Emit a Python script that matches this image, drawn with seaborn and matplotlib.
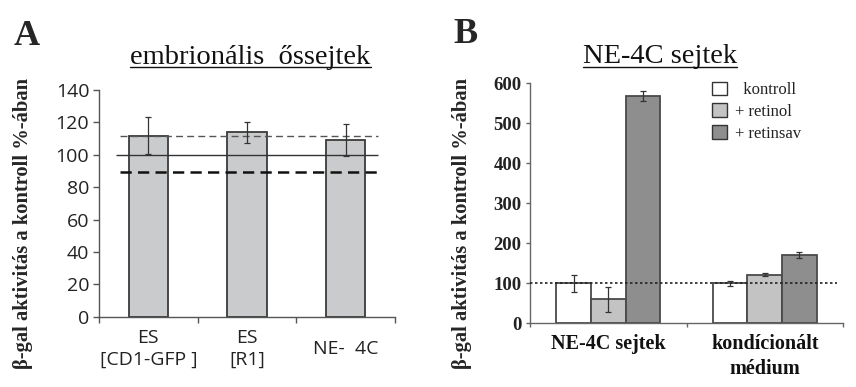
import numpy as np
import pandas as pd
import matplotlib
matplotlib.use("Agg")
import matplotlib.pyplot as plt
import seaborn as sns
from matplotlib.lines import Line2D

# ---------------- data ----------------
a_categories = ["ES\n[CD1-GFP ]", "ES\n[R1]", "NE-  4C"]
a_values = [111.8, 114.0, 108.9]
a_errors = [11.6, 6.5, 9.8]
a_ref_solid = 100
a_ref_upper = 111.6
a_ref_lower = 89.4
a_yticks = [0, 20, 40, 60, 80, 100, 120, 140]

b_groups = ["NE-4C sejtek", "kondícionált\nmédium"]
b_treatments = ["  kontroll", "+ retinol", "+ retinsav"]
b_values = {
    "  kontroll": [100, 100],
    "+ retinol": [60, 122],
    "+ retinsav": [569, 171],
}
b_errors = {
    "  kontroll": [21.5, 6],
    "+ retinol": [31, 4],
    "+ retinsav": [12, 7],
}
b_ref = 100
b_yticks = [0, 100, 200, 300, 400, 500, 600]

ylabel_text = "β-gal aktivitás a kontroll %-ában"

# ---------------- style ----------------
sns.set_style("ticks")
plt.rcParams["font.family"] = ["Liberation Serif", "DejaVu Serif"]
SERIF = ["Liberation Serif", "DejaVu Serif"]
SANS = ["Open Sans", "DejaVu Sans"]

fig = plt.figure(figsize=(8.56, 3.87), dpi=100)
W, H = 856, 387

def ax_rect(x0, x1, ytop, ybot):
    return [x0 / W, 1 - ybot / H, (x1 - x0) / W, (ybot - ytop) / H]

axA = fig.add_axes(ax_rect(99, 395, 90, 316.7))
axB = fig.add_axes(ax_rect(530, 843, 83.3, 323.3))

# ---------------- panel A ----------------
dfA = pd.DataFrame({"cat": a_categories, "val": a_values})
sns.barplot(data=dfA, x="cat", y="val", color="#c9cbcd", saturation=1,
            width=0.4, edgecolor="#3a3a3a", linewidth=1.3, errorbar=None, ax=axA)
xs = np.arange(len(a_categories))
axA.errorbar(xs, a_values, yerr=a_errors, fmt="none", ecolor="#333333",
             elinewidth=0.9, capsize=2.5, capthick=0.9, zorder=5)
axA.hlines(a_ref_solid, -0.33, 2.33, color="#333333", lw=1.0, zorder=4)
axA.hlines(a_ref_upper, -0.29, 2.33, color="#555555", lw=1.0,
           linestyles=(0, (5, 3)), zorder=4)
axA.hlines(a_ref_lower, -0.29, 2.33, color="#111111", lw=1.8,
           linestyles=(0, (4.5, 2.5)), zorder=4)
axA.set_xlim(-0.5, len(a_categories) - 0.5)
axA.set_ylim(0, 140)
axA.set_yticks(a_yticks)
axA.set_yticklabels([str(t) for t in a_yticks], fontfamily=SANS, fontsize=14,
                    color="#222222")
axA.set_xticks(xs)
axA.set_xticklabels(a_categories, fontfamily=SANS, fontsize=14, color="#222222",
                    linespacing=1.3, va="center")
axA.set_xticks(np.arange(len(a_categories) + 1) - 0.5, minor=True)
axA.tick_params(axis="x", which="major", length=0, pad=23)
axA.tick_params(axis="x", which="minor", length=4, width=1, color="#555555",
                direction="out")
axA.tick_params(axis="y", length=4, width=1, color="#555555", pad=3)
axA.set_xlabel("")
axA.set_ylabel("")
for s in ["top", "right"]:
    axA.spines[s].set_visible(False)
for s in ["left", "bottom"]:
    axA.spines[s].set_color("#555555")
    axA.spines[s].set_linewidth(1.0)

# ---------------- panel B ----------------
rows = []
for t in b_treatments:
    for g, v in zip(b_groups, b_values[t]):
        rows.append({"group": g, "treat": t, "val": v})
dfB = pd.DataFrame(rows)
palette = {"  kontroll": "#ffffff", "+ retinol": "#c3c3c3", "+ retinsav": "#8e8e8e"}
sns.barplot(data=dfB, x="group", y="val", hue="treat", hue_order=b_treatments,
            order=b_groups, palette=palette, saturation=1, width=0.663, gap=0,
            edgecolor="#4a4a4a", linewidth=1.3, errorbar=None, ax=axB)
for cont, t in zip(axB.containers, b_treatments):
    cx = [p.get_x() + p.get_width() / 2 for p in cont.patches]
    axB.errorbar(cx, b_values[t], yerr=b_errors[t], fmt="none", ecolor="#333333",
                 elinewidth=0.9, capsize=2, capthick=0.9, zorder=5)
axB.hlines(b_ref, -0.5, 1.46, color="#222222", lw=1.2,
           linestyles=(0, (1.5, 1.5)), zorder=4)
axB.set_xlim(-0.5, len(b_groups) - 0.5)
axB.set_ylim(0, 600)
axB.set_yticks(b_yticks)
axB.set_yticklabels([str(t) for t in b_yticks], fontfamily=SERIF, fontsize=13.5,
                    fontweight="bold", color="#222222")
axB.set_xticks(np.arange(len(b_groups)))
axB.set_xticklabels(b_groups, fontfamily=SERIF, fontsize=14.5, fontweight="bold",
                    color="#111111", linespacing=1.3)
axB.set_xticks(np.arange(len(b_groups) + 1) - 0.5, minor=True)
axB.tick_params(axis="x", which="major", length=0, pad=8)
axB.tick_params(axis="x", which="minor", length=3, width=1, color="#666666")
axB.tick_params(axis="y", length=3, width=1, color="#666666", pad=3)
axB.set_xlabel("")
axB.set_ylabel("")
for s in ["top", "right"]:
    axB.spines[s].set_visible(False)
for s in ["left", "bottom"]:
    axB.spines[s].set_color("#666666")
    axB.spines[s].set_linewidth(1.0)

leg = axB.legend(title=None, loc="upper left", bbox_to_anchor=(0.56, 1.035),
                 frameon=False, fontsize=12, handlelength=0.9, handleheight=0.9,
                 handletextpad=0.5, labelspacing=0.3, borderaxespad=0)
for txt in leg.get_texts():
    txt.set_color("#222222")
for h in leg.legend_handles:
    h.set_edgecolor("#333333")
    h.set_linewidth(1.0)

# ---------------- texts ----------------
fig.text(14 / W, 1 - 45 / H, "A", fontfamily=SERIF, fontsize=26, fontweight="bold",
         va="baseline", ha="left")
fig.text(453 / W, 1 - 43 / H, "B", fontfamily=SERIF, fontsize=26, fontweight="bold",
         va="baseline", ha="left")
tA = fig.text(250.5 / W, 1 - 64 / H, "embrionális  őssejtek", fontfamily=SERIF,
              fontsize=20.5, va="baseline", ha="center", color="#111111")
tB = fig.text(660 / W, 1 - 63.3 / H, "NE-4C sejtek", fontfamily=SERIF,
              fontsize=20.5, va="baseline", ha="center", color="#111111")
fig.text(23 / W, 1 - 223.5 / H, ylabel_text, fontfamily=SERIF, fontsize=14.8,
         fontweight="bold", rotation=90, ha="center", va="center")
fig.text(462 / W, 1 - 223.5 / H, ylabel_text, fontfamily=SERIF, fontsize=14.8,
         fontweight="bold", rotation=90, ha="center", va="center")

fig.canvas.draw()
r = fig.canvas.get_renderer()
for t, yline in [(tA, 66.7), (tB, 66.7)]:
    bb = t.get_window_extent(r)
    fy = 1 - yline / H
    fig.add_artist(Line2D([bb.x0 / W, bb.x1 / W], [fy, fy], transform=fig.transFigure,
                          color="#111111", lw=1.0))

fig.savefig("out.png", dpi=100)
